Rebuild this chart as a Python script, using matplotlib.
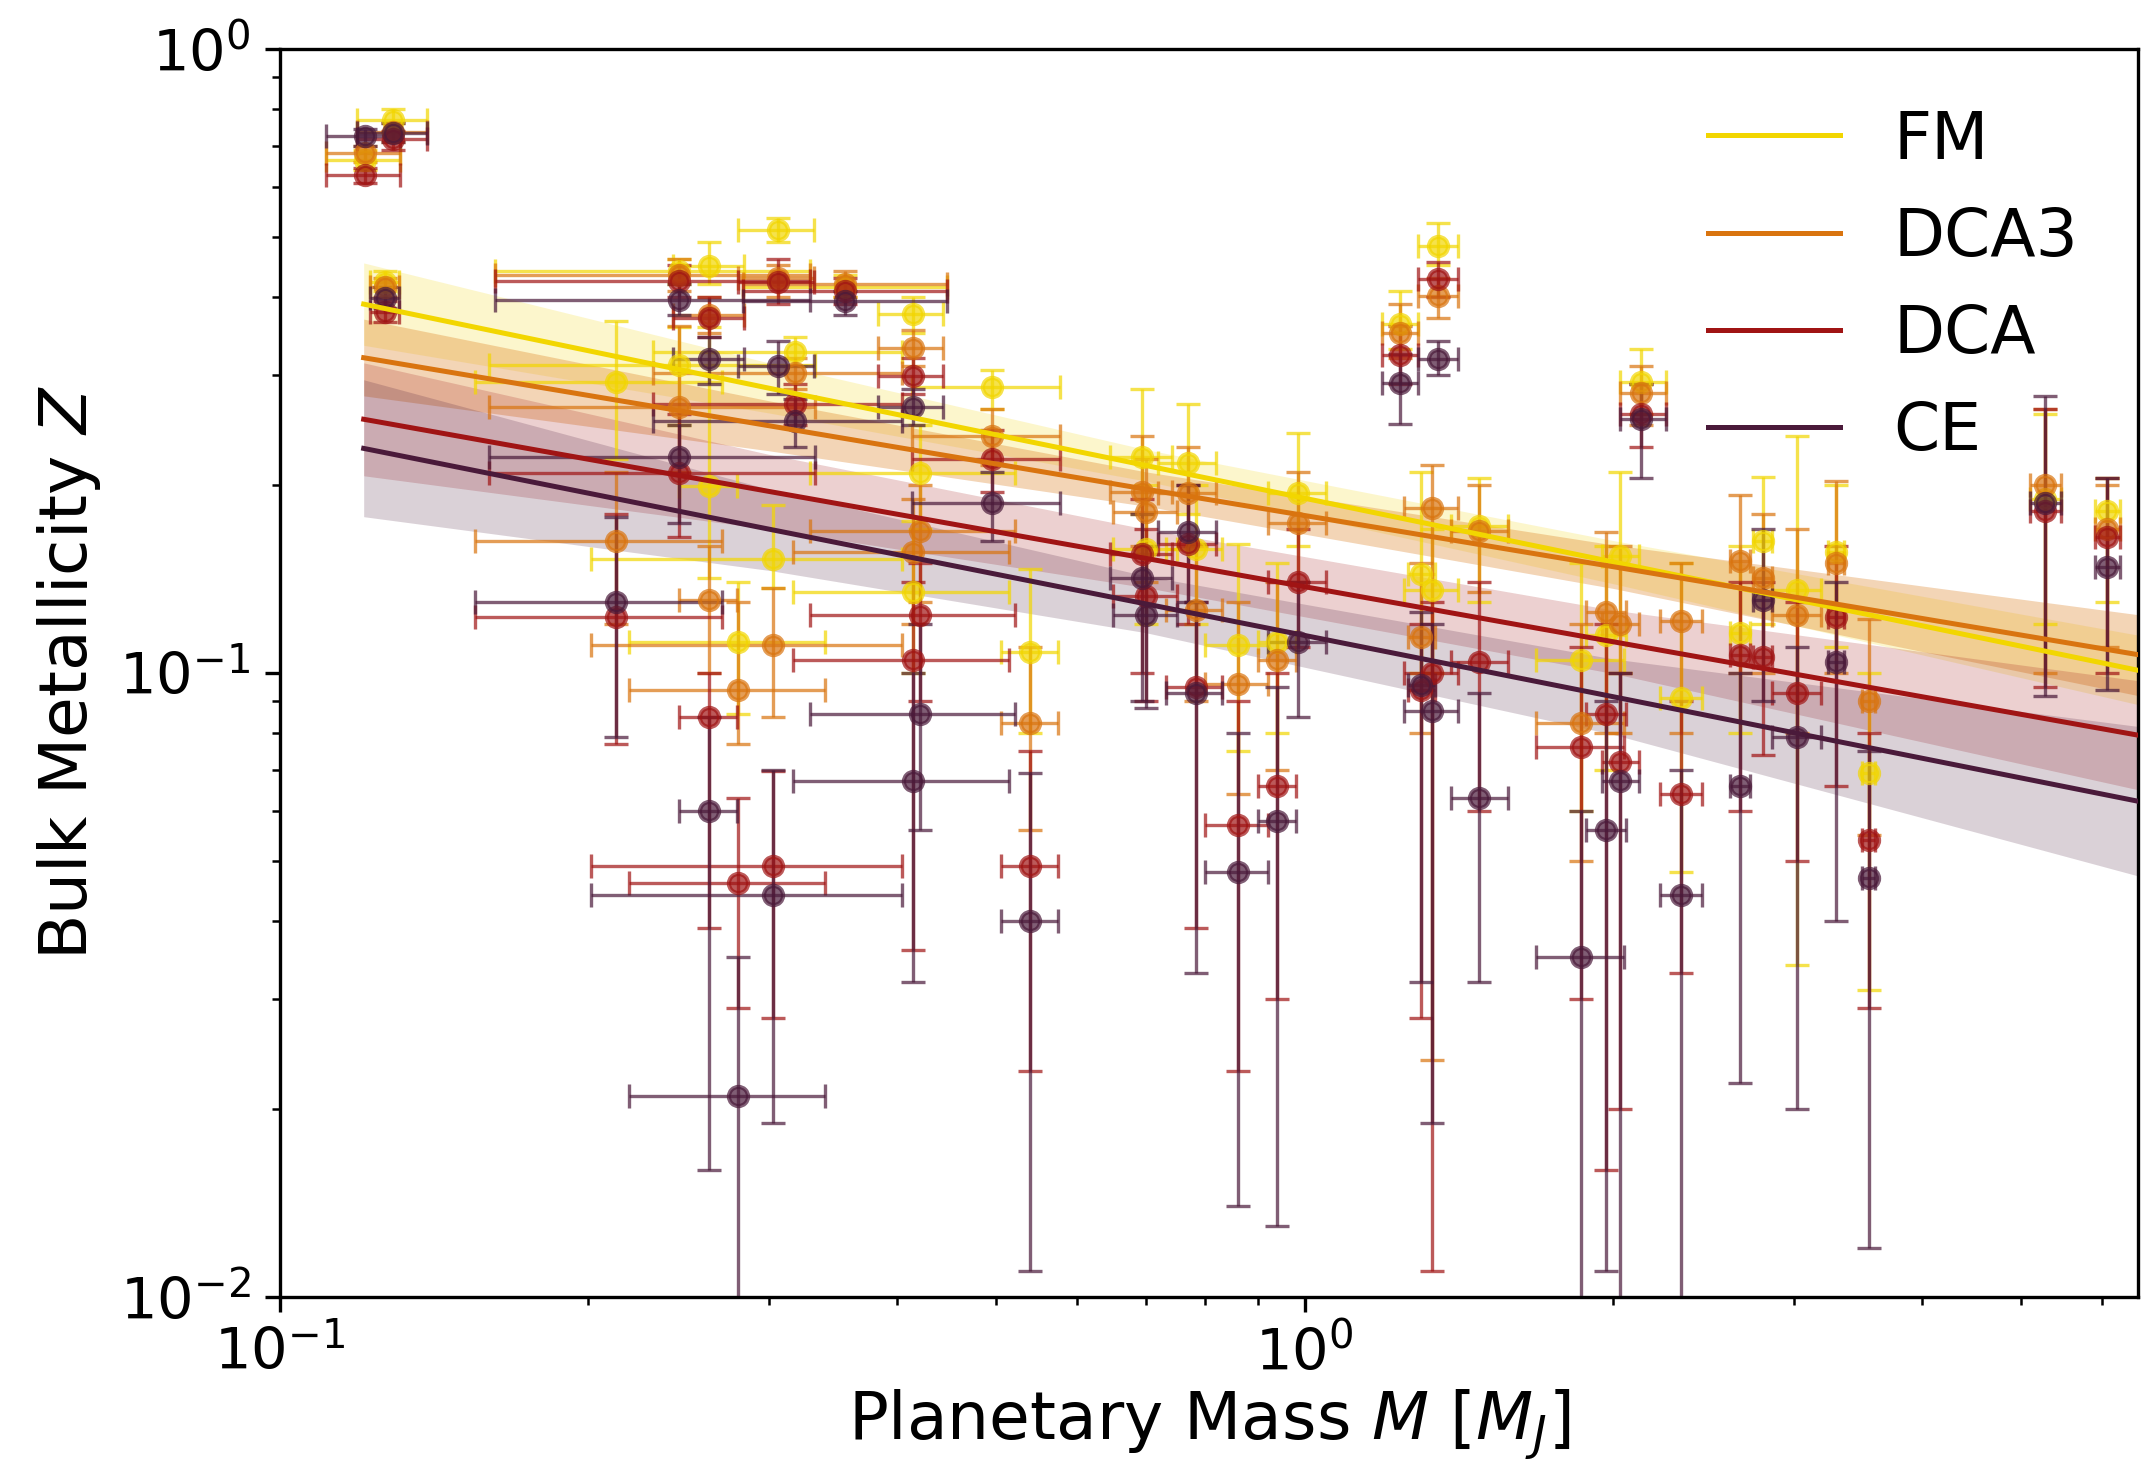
import numpy as np
import matplotlib
matplotlib.use('Agg')
import matplotlib.pyplot as plt

# ---------------- data ----------------
models = ['FM', 'DCA3', 'DCA', 'CE']
colors = ['#f2d600', '#d9740f', '#a01414', '#4a1a3a']

mass = [0.121, 0.129, 0.1265, 0.245, 0.262, 0.306, 0.318, 0.245, 0.213, 0.262,
        0.280, 0.303, 0.356, 0.415, 0.421, 0.415, 0.495, 0.539, 0.694, 0.700,
        0.770, 0.783, 0.861, 0.940, 0.984, 1.24, 1.35, 1.33, 1.30, 1.48,
        2.13, 1.97, 2.03, 1.86, 2.33, 2.66, 2.80, 3.02, 3.30, 3.55, 5.28, 6.07]
mass_lo = [0.111, 0.119, 0.1225, 0.162, 0.242, 0.280, 0.231, 0.160, 0.155, 0.245,
           0.219, 0.201, 0.283, 0.383, 0.329, 0.317, 0.414, 0.505, 0.646, 0.650,
           0.720, 0.733, 0.800, 0.900, 0.920, 1.19, 1.29, 1.25, 1.26, 1.39,
           2.03, 1.88, 1.95, 1.68, 2.22, 2.60, 2.74, 2.86, 3.24, 3.50, 5.10, 5.90]
mass_hi = [0.131, 0.139, 0.1306, 0.329, 0.284, 0.332, 0.405, 0.333, 0.270, 0.279,
           0.340, 0.405, 0.448, 0.444, 0.521, 0.515, 0.577, 0.575, 0.743, 0.750,
           0.820, 0.830, 0.920, 0.980, 1.05, 1.29, 1.41, 1.41, 1.34, 1.58,
           2.25, 2.06, 2.12, 2.05, 2.44, 2.72, 2.86, 3.19, 3.36, 3.60, 5.47, 6.25]

fm_z = [0.663, 0.768, 0.423, 0.44, 0.449, 0.512, 0.327, 0.311, 0.293, 0.199,
        0.112, 0.152, 0.415, 0.376, 0.209, 0.135, 0.287, 0.108, 0.222, 0.158,
        0.217, 0.158, 0.111, 0.112, 0.194, 0.363, 0.483, 0.136, 0.144, 0.172,
        0.293, 0.115, 0.154, 0.105, 0.091, 0.116, 0.163, 0.136, 0.156, 0.069, 0.19, 0.182]
fm_lo = [0.64, 0.735, 0.41, 0.42, 0.42, 0.49, 0.31, 0.25, 0.22, 0.142,
         0.086, 0.137, 0.40, 0.35, 0.17, 0.10, 0.265, 0.08, 0.18, 0.12,
         0.18, 0.12, 0.075, 0.08, 0.16, 0.33, 0.45, 0.10, 0.10, 0.13,
         0.26, 0.07, 0.10, 0.06, 0.048, 0.08, 0.12, 0.034, 0.11, 0.031, 0.12, 0.13]
fm_hi = [0.69, 0.80, 0.44, 0.46, 0.49, 0.535, 0.345, 0.358, 0.366, 0.358,
         0.14, 0.186, 0.435, 0.40, 0.25, 0.175, 0.306, 0.147, 0.285, 0.20,
         0.27, 0.20, 0.161, 0.15, 0.242, 0.41, 0.527, 0.17, 0.21, 0.205,
         0.33, 0.16, 0.21, 0.15, 0.15, 0.16, 0.206, 0.24, 0.20, 0.10, 0.26, 0.205]

dca3_z = [0.682, 0.735, 0.416, 0.435, 0.375, 0.43, 0.302, 0.267, 0.163, 0.131,
          0.094, 0.111, 0.42, 0.332, 0.169, 0.156, 0.240, 0.083, 0.195, 0.181,
          0.194, 0.126, 0.096, 0.105, 0.174, 0.350, 0.402, 0.184, 0.114, 0.169,
          0.281, 0.125, 0.12, 0.083, 0.121, 0.151, 0.142, 0.124, 0.150, 0.090, 0.200, 0.17]
dca3_lo = [0.66, 0.71, 0.40, 0.41, 0.35, 0.40, 0.285, 0.21, 0.12, 0.10,
           0.077, 0.085, 0.40, 0.31, 0.13, 0.12, 0.215, 0.056, 0.16, 0.14,
           0.16, 0.09, 0.064, 0.07, 0.14, 0.32, 0.37, 0.024, 0.08, 0.135,
           0.25, 0.08, 0.08, 0.05, 0.08, 0.10, 0.10, 0.08, 0.10, 0.055, 0.10, 0.11]
dca3_hi = [0.70, 0.76, 0.43, 0.46, 0.40, 0.45, 0.32, 0.36, 0.21, 0.16,
           0.13, 0.137, 0.44, 0.355, 0.20, 0.19, 0.265, 0.11, 0.24, 0.22,
           0.23, 0.16, 0.13, 0.14, 0.21, 0.39, 0.43, 0.215, 0.15, 0.20,
           0.31, 0.168, 0.16, 0.12, 0.15, 0.193, 0.18, 0.17, 0.203, 0.122, 0.265, 0.20]

dca_z = [0.627, 0.718, 0.379, 0.425, 0.371, 0.423, 0.270, 0.209, 0.123, 0.085,
         0.046, 0.049, 0.41, 0.299, 0.124, 0.105, 0.220, 0.049, 0.155, 0.133,
         0.161, 0.095, 0.057, 0.066, 0.140, 0.323, 0.428, 0.100, 0.094, 0.104,
         0.260, 0.086, 0.072, 0.076, 0.064, 0.107, 0.106, 0.093, 0.123, 0.054, 0.182, 0.165]
dca_lo = [0.61, 0.69, 0.365, 0.40, 0.345, 0.39, 0.25, 0.165, 0.077, 0.039,
          0.029, 0.028, 0.39, 0.28, 0.09, 0.036, 0.195, 0.023, 0.10, 0.09,
          0.12, 0.039, 0.023, 0.030, 0.11, 0.29, 0.40, 0.011, 0.028, 0.06,
          0.23, 0.016, 0.02, 0.03, 0.033, 0.06, 0.074, 0.05, 0.066, 0.029, 0.095, 0.10]
dca_hi = [0.645, 0.74, 0.395, 0.45, 0.40, 0.46, 0.29, 0.26, 0.18, 0.10,
          0.063, 0.0696, 0.43, 0.32, 0.15, 0.14, 0.245, 0.075, 0.19, 0.17,
          0.20, 0.13, 0.09, 0.10, 0.17, 0.36, 0.455, 0.13, 0.12, 0.14,
          0.29, 0.12, 0.10, 0.11, 0.09, 0.14, 0.14, 0.13, 0.16, 0.08, 0.265, 0.205]

ce_z = [0.724, 0.734, 0.399, 0.396, 0.318, 0.310, 0.253, 0.222, 0.130, 0.060,
        0.021, 0.044, 0.394, 0.267, 0.086, 0.067, 0.187, 0.040, 0.142, 0.124,
        0.168, 0.093, 0.048, 0.058, 0.112, 0.291, 0.318, 0.087, 0.0955, 0.063,
        0.255, 0.056, 0.067, 0.035, 0.044, 0.066, 0.131, 0.079, 0.104, 0.047, 0.187, 0.148]
ce_lo = [0.70, 0.71, 0.385, 0.375, 0.29, 0.28, 0.23, 0.174, 0.079, 0.016,
         0.005, 0.019, 0.375, 0.25, 0.056, 0.032, 0.163, 0.011, 0.09, 0.088,
         0.13, 0.033, 0.014, 0.013, 0.085, 0.251, 0.30, 0.019, 0.032, 0.032,
         0.205, 0.011, 0.005, 0.005, 0.005, 0.022, 0.09, 0.020, 0.040, 0.012, 0.092, 0.094]
ce_hi = [0.745, 0.76, 0.415, 0.42, 0.345, 0.34, 0.275, 0.25, 0.178, 0.085,
         0.035, 0.07, 0.41, 0.285, 0.12, 0.10, 0.21, 0.069, 0.18, 0.16,
         0.20, 0.13, 0.08, 0.095, 0.14, 0.325, 0.34, 0.12, 0.125, 0.093,
         0.29, 0.09, 0.10, 0.06, 0.07, 0.10, 0.17, 0.11, 0.14, 0.075, 0.278, 0.205]

# fitted relations and their confidence bands
fit_mass = [0.1207, 0.3, 0.7, 2.0, 6.5]
fm_fit = [0.390, 0.286, 0.215, 0.1506, 0.101]
fm_band_lo = [0.335, 0.261, 0.203, 0.139, 0.089]
fm_band_hi = [0.454, 0.314, 0.228, 0.163, 0.115]
dca3_fit = [0.320, 0.249, 0.197, 0.148, 0.107]
dca3_band_lo = [0.278, 0.227, 0.185, 0.1366, 0.092]
dca3_band_hi = [0.369, 0.273, 0.210, 0.1604, 0.124]
dca_fit = [0.255, 0.1954, 0.1526, 0.1122, 0.0795]
dca_band_lo = [0.207, 0.170, 0.137, 0.0998, 0.0650]
dca_band_hi = [0.314, 0.224, 0.170, 0.1261, 0.0972]
ce_fit = [0.229, 0.170, 0.129, 0.0916, 0.0623]
ce_band_lo = [0.178, 0.146, 0.116, 0.0797, 0.0473]
ce_band_hi = [0.295, 0.197, 0.143, 0.1053, 0.0821]

points = [(fm_z, fm_lo, fm_hi), (dca3_z, dca3_lo, dca3_hi),
          (dca_z, dca_lo, dca_hi), (ce_z, ce_lo, ce_hi)]
fits = [(fm_fit, fm_band_lo, fm_band_hi), (dca3_fit, dca3_band_lo, dca3_band_hi),
        (dca_fit, dca_band_lo, dca_band_hi), (ce_fit, ce_band_lo, ce_band_hi)]
band_alpha = [0.2, 0.3, 0.2, 0.2]

# ---------------- plot ----------------
fig = plt.figure(figsize=(7.14, 4.87), dpi=300)
ax = fig.add_axes([0.1307, 0.1123, 0.8673, 0.8542])

m = np.array(mass)
mlo = np.array(mass_lo)
mhi = np.array(mass_hi)

for (z, lo, hi), c in zip(points, colors):
    z = np.array(z); lo = np.array(lo); hi = np.array(hi)
    ax.errorbar(m, z, xerr=[m - mlo, mhi - m], yerr=[z - lo, hi - z],
                fmt='o', color=c, ms=4.6, alpha=0.7, capsize=2.8,
                elinewidth=0.8, capthick=0.8, zorder=2)

for (f, blo, bhi), c, a, name in zip(fits, colors, band_alpha, models):
    ax.fill_between(fit_mass, blo, bhi, color=c, alpha=a, lw=0, zorder=1)
    ax.plot(fit_mass, f, color=c, lw=1.2, label=name, zorder=3)

ax.set_xscale('log')
ax.set_yscale('log')
ax.set_xlim(0.1, 6.5)
ax.set_ylim(0.01, 1.0)
ax.set_xlabel('Planetary Mass $M$ [$M_J$]', fontsize=15.9, labelpad=1.0)
ax.set_ylabel('Bulk Metallicity $Z$', fontsize=15.9)
ax.tick_params(axis='both', which='major', labelsize=13.8)
ax.legend(loc='upper right', frameon=False, fontsize=15.9)

fig.savefig('out.png', dpi=300)
